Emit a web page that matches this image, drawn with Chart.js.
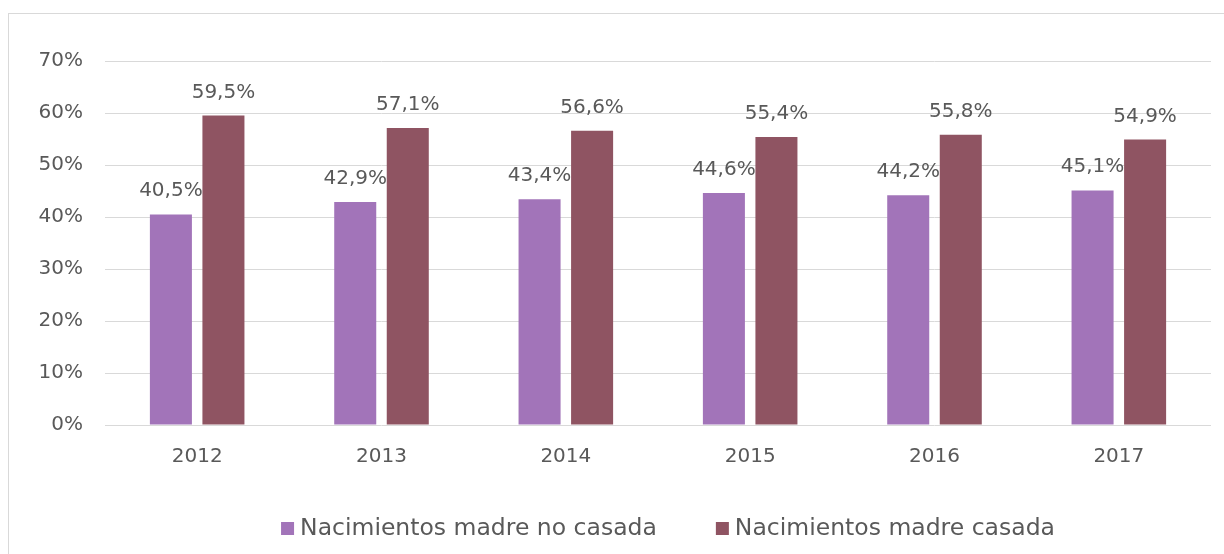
<!DOCTYPE html>
<html>
<head>
<meta charset="utf-8">
<script src="https://cdn.jsdelivr.net/npm/chart.js@4/dist/chart.umd.min.js"></script>
<style>
  html, body { margin: 0; padding: 0; background: #fff; }
  #frame { position: absolute; left: 8px; top: 13px; width: 1240px; height: 600px; border: 1px solid #d9d9d9; box-sizing: border-box; }
  #wrap { position: absolute; left: 0; top: 0; width: 1224px; height: 554px; }
</style>
</head>
<body>
<div id="frame"></div>
<div id="wrap"><canvas id="c" width="1224" height="554"></canvas></div>
<script>
const categories = ['2012', '2013', '2014', '2015', '2016', '2017'];
const noCasada = [40.5, 42.9, 43.4, 44.6, 44.2, 45.1];
const casada = [59.5, 57.1, 56.6, 55.4, 55.8, 54.9];
const yTicks = [0, 10, 20, 30, 40, 50, 60, 70];
const seriesNames = ['Nacimientos madre no casada', 'Nacimientos madre casada'];

const FONT = "'DejaVu Sans', sans-serif";
const TEXT = '#595959';

const labelPlugin = {
  id: 'barLabels',
  afterDatasetsDraw(chart) {
    const ctx = chart.ctx;
    ctx.save();
    ctx.font = '20px ' + FONT;
    ctx.fillStyle = TEXT;
    ctx.textAlign = 'center';
    ctx.textBaseline = 'alphabetic';
    chart.data.datasets.forEach((ds, i) => {
      chart.getDatasetMeta(i).data.forEach((bar, j) => {
        const txt = ds.data[j].toFixed(1).replace('.', ',') + '%';
        ctx.fillText(txt, bar.x, bar.y - 18);
      });
    });
    ctx.restore();
  }
};

// Legend drawn from the dataset labels/colours, placed like the original
const legendPlugin = {
  id: 'customLegend',
  afterDraw(chart) {
    const ctx = chart.ctx;
    ctx.save();
    ctx.font = '23.5px ' + FONT;
    ctx.textBaseline = 'alphabetic';
    ctx.textAlign = 'left';
    const box = 13, gapBox = 6, gapItem = 59;
    const items = chart.data.datasets.map(ds => ({ text: ds.label, color: ds.backgroundColor, w: box + gapBox + ctx.measureText(ds.label).width }));
    const total = items.reduce((a, it) => a + it.w, 0) + gapItem * (items.length - 1);
    let x = 668 - total / 2;
    const baseline = 535;
    items.forEach(it => {
      ctx.fillStyle = it.color;
      ctx.fillRect(x, 522, box, box);
      ctx.fillStyle = TEXT;
      ctx.fillText(it.text, x + box + gapBox, baseline);
      x += it.w + gapItem;
    });
    ctx.restore();
  }
};

new Chart(document.getElementById('c'), {
  type: 'bar',
  data: {
    labels: categories,
    datasets: [
      { label: seriesNames[0], data: noCasada, backgroundColor: '#a274b9', borderWidth: 0 },
      { label: seriesNames[1], data: casada, backgroundColor: '#8f5462', borderWidth: 0 }
    ]
  },
  options: {
    responsive: false,
    animation: false,
    layout: { padding: { left: 0, right: 13, top: 61, bottom: 0 } },
    datasets: { bar: { categoryPercentage: 0.57, barPercentage: 0.8 } },
    scales: {
      x: {
        afterFit(s) { s.height = 129; },
        grid: { display: false, drawTicks: false },
        border: { display: false },
        ticks: { color: TEXT, font: { family: FONT, size: 20 }, padding: 20 }
      },
      y: {
        min: 0, max: 70,
        afterFit(s) { s.width = 105; },
        afterBuildTicks(s) { s.ticks = yTicks.map(v => ({ value: v })); },
        grid: { color: '#d9d9d9', lineWidth: 1, drawTicks: false },
        border: { display: false },
        ticks: { color: TEXT, font: { family: FONT, size: 20 }, padding: 22, callback: v => v + '%' }
      }
    },
    plugins: {
      legend: { display: false },
      tooltip: { enabled: false }
    }
  },
  plugins: [labelPlugin, legendPlugin]
});
</script>
</body>
</html>
